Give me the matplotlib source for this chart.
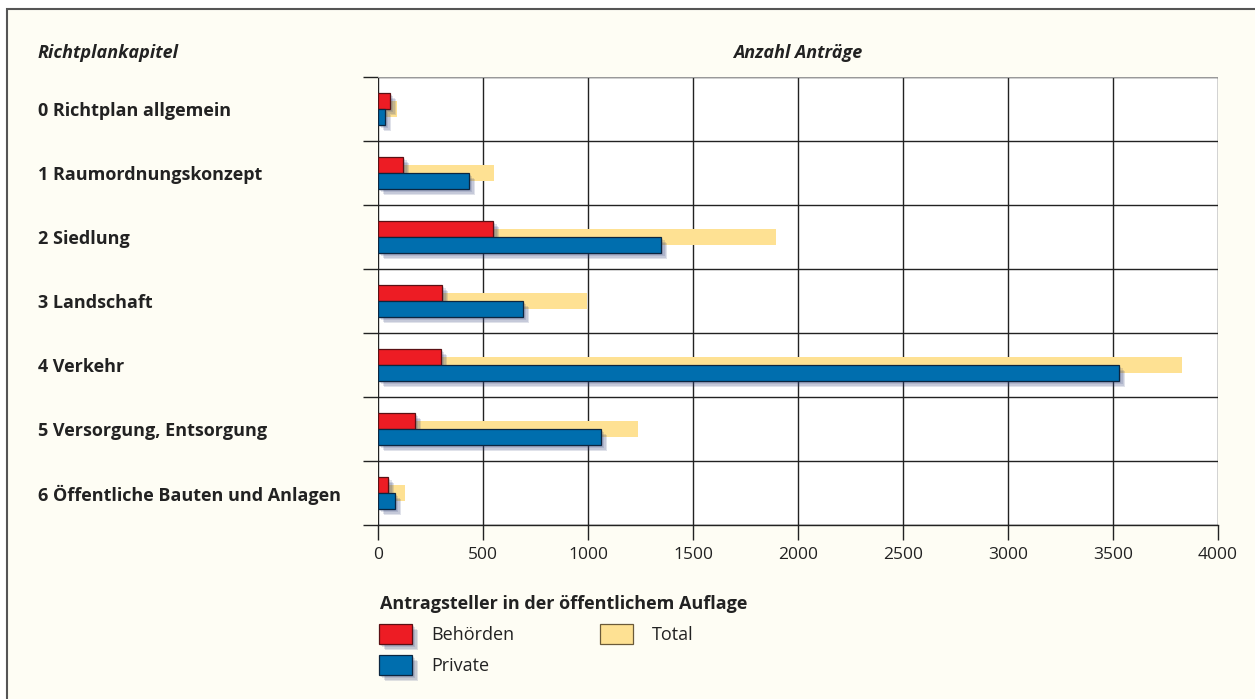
import numpy as np
import matplotlib
matplotlib.use("Agg")
from matplotlib import pyplot as plt
from matplotlib.patches import Rectangle
import matplotlib.patheffects as pe

# data
kapitel = ["0 Richtplan allgemein", "1 Raumordnungskonzept", "2 Siedlung",
           "3 Landschaft", "4 Verkehr", "5 Versorgung, Entsorgung",
           "6 Öffentliche Bauten und Anlagen"]
behoerden = [57, 120, 548, 305, 300, 176, 48]
private = [33, 433, 1348, 690, 3529, 1062, 81]
total = [90, 553, 1896, 995, 3829, 1238, 129]
xticks = [0, 500, 1000, 1500, 2000, 2500, 3000, 3500, 4000]

RED = "#ED1C24"
BLUE = "#006EAE"
GOLD = "#FEE193"
BG = "#FEFDF4"

plt.rcParams["font.family"] = ["Open Sans", "DejaVu Sans"]

W, H = 1255, 699
fig = plt.figure(figsize=(W / 100, H / 100), dpi=100)
fig.patch.set_facecolor("white")

# cream panel with a dark frame
fig.add_artist(Rectangle((7 / W, -0.01), 1.02, 1 - 9 / H + 0.01, transform=fig.transFigure,
                         facecolor=BG, edgecolor="#555555", lw=1.5, zorder=0))

ax = fig.add_axes([378 / W, 1 - 525 / H, 840 / W, 448 / H])
ax.set_facecolor("white")

shadow = [pe.SimplePatchShadow(offset=(o, -o), shadow_rgbFace="#2f3f78", alpha=0.15)
          for o in (1.5, 2.5, 3.5, 4.5)] + [pe.Normal()]

y = np.arange(len(kapitel))
h = 0.25
ax.barh(y, total, height=h, color=GOLD, zorder=2)
b1 = ax.barh(y - h / 2, behoerden, height=h, color=RED, edgecolor="#5a1014", lw=0.9, zorder=3)
b2 = ax.barh(y + h / 2, private, height=h, color=BLUE, edgecolor="#0c2640", lw=0.9, zorder=3)
for r in list(b1) + list(b2):
    r.set_path_effects(shadow)

ax.set_xlim(0, 4000)
ax.set_ylim(len(kapitel) - 0.5, -0.5)
ax.set_xticks(xticks)
ax.set_xticklabels([str(v) for v in xticks], fontsize=12.5, color="#222222")
ax.set_yticks(np.arange(-0.5, len(kapitel)))
ax.set_yticklabels([])
ax.tick_params(axis="both", length=11, width=1, color="#222222")
ax.tick_params(axis="x", pad=5)
for s in ax.spines.values():
    s.set_visible(False)
ax.grid(True, color="#222222", lw=1, zorder=1)
ax.set_axisbelow(True)
ax.axhline(-0.5, color="#999999", lw=1.5, zorder=1)
ax.axhline(len(kapitel) - 0.5, color="#222222", lw=1, zorder=1, clip_on=False)

# category labels on the left
for i, k in enumerate(kapitel):
    yy = ax.transData.transform((0, i))[1] / H - 2 / H
    fig.text(38 / W, yy, k, fontsize=13, fontweight="bold", color="#222222", va="center", ha="left")

fig.text(38 / W, 1 - 53 / H, "Richtplankapitel", fontsize=13, fontweight="bold",
         fontstyle="italic", color="#222222", va="center", ha="left")
fig.text(798 / W, 1 - 53 / H, "Anzahl Anträge", fontsize=13, fontweight="bold",
         fontstyle="italic", color="#222222", va="center", ha="center")

# legend
fig.text(380 / W, 1 - 604 / H, "Antragsteller in der öffentlichem Auflage", fontsize=13,
         fontweight="bold", color="#222222", va="center", ha="left")
items = [(RED, "#5a1014", "Behörden", 379, 634, True),
         (BLUE, "#0c2640", "Private", 379, 665, True),
         (GOLD, "#6a5a3a", "Total", 600, 634, False)]
for fc, ec, lab, px, py, sh in items:
    r = Rectangle((px / W, 1 - (py + 10) / H), 33 / W, 20 / H, transform=fig.transFigure,
                  facecolor=fc, edgecolor=ec, lw=0.9, zorder=3)
    if sh:
        r.set_path_effects(shadow)
    fig.add_artist(r)
    fig.text((px + 52) / W, 1 - (py + 1) / H, lab, fontsize=13, color="#222222", va="center", ha="left")

fig.savefig("out.png", dpi=100, facecolor=fig.get_facecolor())
